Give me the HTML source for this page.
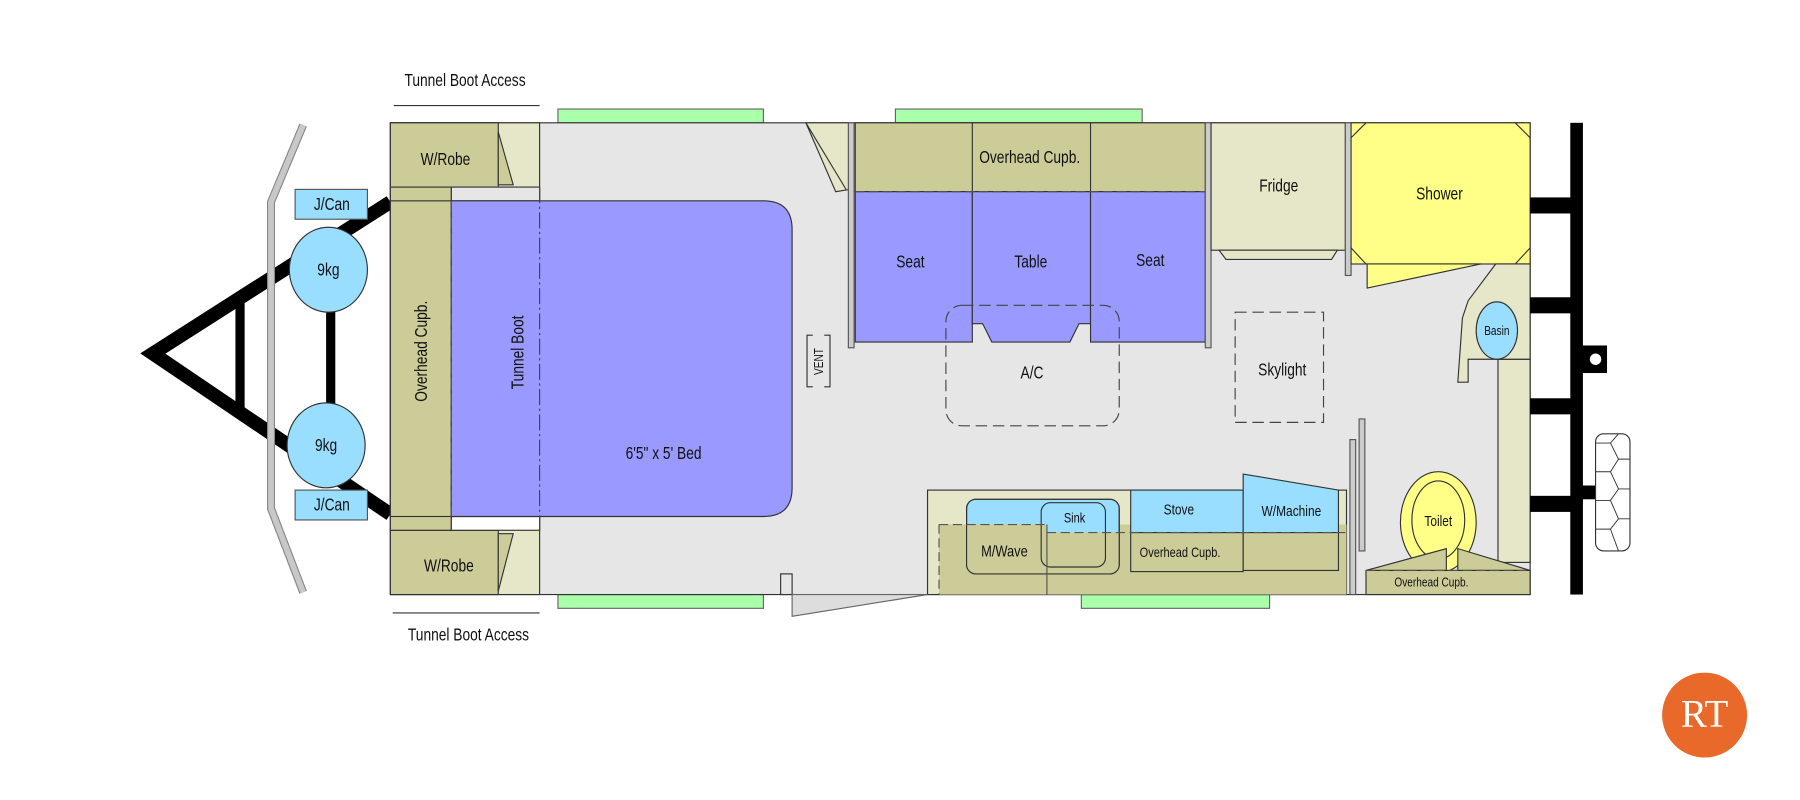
<!DOCTYPE html>
<html><head><meta charset="utf-8"><style>
html,body{margin:0;padding:0;background:#fff;}
svg{display:block;}
text{font-family:"Liberation Sans Narrow","Liberation Sans",sans-serif;fill:#111;text-anchor:middle;dominant-baseline:middle;}
text.n{transform-box:fill-box;transform-origin:center;transform:scaleX(0.8);}
</style></head><body>
<svg width="1800" height="800" viewBox="0 0 1568 697" xmlns="http://www.w3.org/2000/svg">
<rect width="1568" height="697" fill="#fff"/>
<!-- A-frame -->
<g stroke="#000" stroke-width="12" fill="none" stroke-linejoin="miter">
<polyline points="340,176 133,308 340,448"/>
<line x1="209" y1="262" x2="209" y2="356" stroke-width="8"/>
<line x1="288" y1="265" x2="288" y2="355" stroke-width="8"/>
</g>
<polyline points="264,109 236,176 236,443 264,516" fill="none" stroke="#888" stroke-width="7"/>
<polyline points="264,109 236,176 236,443 264,516" fill="none" stroke="#c8c8c8" stroke-width="5"/>
<rect x="257" y="165" width="63" height="26" fill="#99ddff" stroke="#555"/>
<text class="n" x="289" y="179" font-size="15">J/Can</text>
<rect x="257" y="427" width="63" height="26" fill="#99ddff" stroke="#555"/>
<text class="n" x="289" y="441" font-size="15">J/Can</text>
<ellipse cx="286" cy="235" rx="34" ry="37" fill="#99ddff" stroke="#333"/>
<text class="n" x="286" y="236" font-size="15">9kg</text>
<ellipse cx="284" cy="388" rx="34" ry="37" fill="#99ddff" stroke="#333"/>
<text class="n" x="284" y="389" font-size="15">9kg</text>
<!-- tunnel boot access -->
<text class="n" x="405" y="71" font-size="15">Tunnel Boot Access</text>
<line x1="343" y1="92" x2="470" y2="92" stroke="#333"/>
<line x1="342" y1="534" x2="470" y2="534" stroke="#333"/>
<text class="n" x="408" y="554" font-size="15">Tunnel Boot Access</text>
<!-- windows -->
<g fill="#aaffaa" stroke="#666">
<rect x="486" y="95" width="179" height="12"/><rect x="780" y="95" width="215" height="12"/>
<rect x="486" y="518" width="179" height="12"/><rect x="942" y="518" width="164" height="12"/>
</g>
<!-- body -->
<rect x="340" y="107" width="993" height="411" fill="#e6e6e6" stroke="#333"/>
<!-- left end -->
<rect x="340" y="107" width="130" height="411" fill="#e6e6c8" stroke="#333"/>
<rect x="340" y="107" width="94" height="56" fill="#cccc99" stroke="#333"/>
<polygon points="434,115 447,161 434,161" fill="#cccc99" stroke="#333"/>
<text class="n" x="388" y="140" font-size="15">W/Robe</text>
<rect x="340" y="462" width="94" height="56" fill="#cccc99" stroke="#333"/>
<polygon points="434,465 447,465 434,515" fill="#cccc99" stroke="#333"/>
<text class="n" x="391" y="494" font-size="15">W/Robe</text>
<rect x="393" y="163" width="77" height="12" fill="#e6e6e6" stroke="#333"/>
<rect x="393" y="450" width="77" height="12" fill="#fff" stroke="#333"/>
<rect x="340" y="163" width="53" height="299" fill="#cccc99" stroke="#333"/>
<rect x="340" y="175" width="53" height="275" fill="#cccc99" stroke="#333"/>
<text transform="translate(368,306) rotate(-90) scale(0.8,1)" font-size="15">Overhead Cupb.</text>
<path d="M393,175 H665 Q690,175 690,200 V425 Q690,450 665,450 H393 Z" fill="#9999ff" stroke="#333"/>
<line x1="393" y1="175" x2="393" y2="450" stroke="#555" stroke-dasharray="10,4"/>
<line x1="470" y1="163" x2="470" y2="462" stroke="#444" stroke-dasharray="14,3,2,3"/>
<text transform="translate(452,307) rotate(-90) scale(0.8,1)" font-size="15">Tunnel Boot</text>
<text class="n" x="578" y="396" font-size="15">6'5" x 5' Bed</text>
<!-- vent -->
<g fill="none" stroke="#333"><polyline points="708,292 703,292 703,337 708,337"/><polyline points="718,292 723,292 723,337 718,337"/></g>
<text transform="translate(714,315) rotate(-90) scale(0.8,1)" font-size="11">VENT</text>
<!-- top door -->
<polygon points="702,107 740,107 740,165 728,167" fill="#e6e6c8" stroke="#333"/>
<line x1="702" y1="107" x2="737" y2="165" stroke="#333"/>
<rect x="739" y="107" width="5" height="196" fill="#ccc" stroke="#555"/>
<!-- dinette -->
<rect x="745" y="107" width="305" height="60" fill="#cccc99" stroke="#333"/>
<line x1="847" y1="107" x2="847" y2="167" stroke="#333"/><line x1="950" y1="107" x2="950" y2="167" stroke="#333"/>
<text class="n" x="897" y="138" font-size="15">Overhead Cupb.</text>
<rect x="745" y="167" width="102" height="131" fill="#9999ff" stroke="#333"/>
<polygon points="847,167 950,167 950,282 940,282 932,298 864,298 856,282 847,282" fill="#9999ff" stroke="#333"/>
<rect x="950" y="167" width="100" height="131" fill="#9999ff" stroke="#333"/>
<line x1="745" y1="167" x2="1050" y2="167" stroke="#555" stroke-dasharray="8,4"/>
<text class="n" x="793" y="229" font-size="15">Seat</text>
<text class="n" x="898" y="229" font-size="15">Table</text>
<text class="n" x="1002" y="228" font-size="15">Seat</text>
<rect x="1050" y="107" width="5" height="196" fill="#ccc" stroke="#555"/>
<rect x="824" y="266" width="151" height="105" rx="14" fill="none" stroke="#444" stroke-dasharray="10,5"/>
<text class="n" x="899" y="326" font-size="15">A/C</text>
<!-- fridge -->
<rect x="1055" y="107" width="117" height="111" fill="#e6e6c8" stroke="#333"/>
<polygon points="1062,218 1165,218 1160,226 1068,226" fill="#e6e6c8" stroke="#333"/>
<text class="n" x="1114" y="163" font-size="15">Fridge</text>
<rect x="1172" y="107" width="5" height="133" fill="#ccc" stroke="#555"/>
<rect x="1076" y="272" width="77" height="96" fill="none" stroke="#444" stroke-dasharray="10,5"/>
<text class="n" x="1117" y="323" font-size="15">Skylight</text>
<!-- shower -->
<rect x="1177" y="107" width="156" height="123" fill="#ffff88" stroke="#333"/>
<g stroke="#333"><line x1="1177" y1="120" x2="1190" y2="107"/><line x1="1320" y1="107" x2="1333" y2="120"/><line x1="1177" y1="216" x2="1190" y2="230"/><line x1="1320" y1="230" x2="1333" y2="216"/></g>
<polygon points="1191,230 1290,230 1191,251" fill="#ffff88" stroke="#333"/>
<text class="n" x="1254" y="170" font-size="15">Shower</text>
<!-- basin -->
<rect x="1305" y="313" width="28" height="177" fill="#e6e6c8" stroke="#333"/>
<polygon points="1303,230 1333,230 1333,313 1279,313 1279,333 1270,333 1274,277 1279,262" fill="#e6e6c8" stroke="#333"/>
<ellipse cx="1304" cy="288" rx="18" ry="25" fill="#99ddff" stroke="#333"/>
<text class="n" x="1304" y="289" font-size="11">Basin</text>
<!-- partitions -->
<rect x="1176" y="383" width="5" height="135" fill="#ccc" stroke="#555"/>
<rect x="1184" y="365" width="5" height="115" fill="#ccc" stroke="#555"/>
<!-- toilet -->
<ellipse cx="1253" cy="455" rx="33" ry="44" fill="#ffff88" stroke="#333"/>
<ellipse cx="1253" cy="453" rx="23" ry="34" fill="#ffff88" stroke="#333"/>
<text class="n" x="1253" y="455" font-size="13">Toilet</text>
<polygon points="1190,497 1260,478 1260,497" fill="#cccc99" stroke="#333"/>
<polygon points="1270,478 1333,497 1270,497" fill="#cccc99" stroke="#333"/>
<rect x="1190" y="497" width="143" height="21" fill="#cccc99" stroke="#333"/>
<line x1="1190" y1="497" x2="1333" y2="497" stroke="#555" stroke-dasharray="8,4"/>
<text class="n" x="1247" y="508" font-size="11">Overhead Cupb.</text>
<!-- kitchen -->
<rect x="808" y="427" width="365" height="91" fill="#e6e6c8" stroke="#333"/>
<rect x="818" y="457" width="355" height="61" fill="#cccc99" stroke="none"/>
<rect x="842" y="435" width="133" height="65" rx="8" fill="#99ddff" stroke="#333"/>
<rect x="912" y="464" width="63" height="36" fill="#cccc99"/>
<rect x="842" y="457" width="70" height="43" fill="#cccc99"/>
<rect x="842" y="435" width="133" height="65" rx="8" fill="none" stroke="#333"/>
<rect x="907" y="438" width="56" height="56" rx="8" fill="none" stroke="#333"/>
<text class="n" x="936" y="452" font-size="12">Sink</text>
<line x1="818" y1="457" x2="912" y2="457" stroke="#555" stroke-dasharray="8,4"/>
<line x1="818" y1="457" x2="818" y2="518" stroke="#555" stroke-dasharray="8,4"/>
<line x1="912" y1="457" x2="912" y2="518" stroke="#555"/>
<text class="n" x="875" y="481" font-size="14">M/Wave</text>
<rect x="985" y="427" width="98" height="37" fill="#99ddff" stroke="#333"/>
<rect x="985" y="464" width="98" height="34" fill="#cccc99" stroke="#333"/>
<text class="n" x="1027" y="445" font-size="13">Stove</text>
<text class="n" x="1028" y="482" font-size="12">Overhead Cupb.</text>
<polygon points="1083,413 1166,427 1166,464 1083,464" fill="#99ddff" stroke="#333"/>
<rect x="1083" y="464" width="83" height="33" fill="#cccc99" stroke="#333"/>
<text class="n" x="1125" y="446" font-size="13">W/Machine</text>
<line x1="912" y1="464" x2="1172" y2="464" stroke="#555" stroke-dasharray="8,4"/>
<!-- bottom door -->
<rect x="680" y="500" width="10" height="18" fill="#e6e6e6" stroke="#333"/>
<polygon points="690,518 808,518 690,537" fill="#ddd" stroke="#666"/>
<!-- right chassis -->
<rect x="1368" y="107" width="11" height="411" fill="#000"/>
<g fill="#000"><rect x="1333" y="172" width="36" height="14"/><rect x="1333" y="259" width="36" height="14"/><rect x="1333" y="347" width="36" height="14"/><rect x="1333" y="432" width="36" height="14"/>
<rect x="1378" y="301" width="22" height="24"/><rect x="1378" y="423" width="14" height="12"/></g>
<circle cx="1390" cy="313" r="5" fill="#fff"/>
<rect x="1390" y="378" width="30" height="102" rx="7" fill="#fff" stroke="#333"/>
<g fill="none" stroke="#333" stroke-width="0.8">
<polyline points="1390,386 1403,386 1410,378"/><polyline points="1403,386 1410,400 1420,400"/>
<polyline points="1390,411 1403,411 1410,400"/><polyline points="1403,411 1410,426 1420,426"/>
<polyline points="1390,436 1403,436 1410,426"/><polyline points="1403,436 1410,452 1420,452"/>
<polyline points="1390,461 1403,461 1410,452"/><polyline points="1403,461 1410,480"/>
</g>
<!-- logo -->
<circle cx="1485" cy="623" r="37" fill="#e8692a"/>
<text x="1485" y="625" font-size="34" style="font-family:'Liberation Serif',serif;fill:#fff">RT</text>
</svg>
</body></html>
